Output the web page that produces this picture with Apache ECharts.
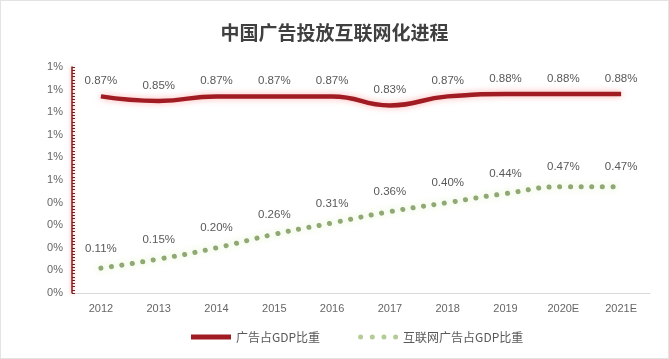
<!DOCTYPE html>
<html><head><meta charset="utf-8">
<script src="https://cdn.jsdelivr.net/npm/echarts@6/dist/echarts.min.js"></script>
<style>
html,body{margin:0;padding:0;background:#fff;}
#c{width:669px;height:359px;box-sizing:border-box;border:1px solid #e3e3e3;}
</style></head>
<body><div id="c"></div>
<script>
const categories = ['2012','2013','2014','2015','2016','2017','2018','2019','2020E','2021E'];
const adGdp = [0.87,0.85,0.87,0.87,0.87,0.83,0.87,0.88,0.88,0.88];
const netAdGdp = [0.11,0.15,0.20,0.26,0.31,0.36,0.40,0.44,0.47,0.47];
const seriesNames = ['广告占GDP比重','互联网广告占GDP比重'];
const titleText = '中国广告投放互联网化进程';

const chart = echarts.init(document.getElementById('c'));
const fontFam = '"Microsoft YaHei","Noto Sans CJK SC",sans-serif';
const numFont = '"Liberation Sans",Arial,sans-serif';
const dotsIcon = 'path://M0,2.5a2.5,2.5 0 1,0 5,0a2.5,2.5 0 1,0 -5,0ZM11.67,2.5a2.5,2.5 0 1,0 5,0a2.5,2.5 0 1,0 -5,0ZM23.33,2.5a2.5,2.5 0 1,0 5,0a2.5,2.5 0 1,0 -5,0ZM35,2.5a2.5,2.5 0 1,0 5,0a2.5,2.5 0 1,0 -5,0Z';
chart.setOption({
  animation:false,
  textStyle:{fontFamily:fontFam},
  title:{text:titleText,left:'center',top:17,textStyle:{fontSize:19,fontWeight:'bold',color:'#404040',fontFamily:fontFam}},
  grid:{left:71,right:18,top:66,bottom:65},
  legend:{left:185,top:325,itemWidth:40,itemHeight:5,itemGap:38,
    textStyle:{fontSize:12,color:'#595959',fontFamily:fontFam},
    data:[
      {name:seriesNames[0],icon:'rect',itemStyle:{color:'#a01c22',opacity:1}},
      {name:seriesNames[1],icon:dotsIcon,itemStyle:{color:'#b5cc96',opacity:1}}
    ]},
  xAxis:{type:'category',data:categories,boundaryGap:true,
    axisLine:{lineStyle:{color:'#d9d9d9'}},axisTick:{show:false},
    axisLabel:{color:'#666',fontSize:11,margin:10,fontFamily:numFont}},
  yAxis:{type:'value',min:0,max:1,interval:0.1,
    axisLine:{show:true,lineStyle:{color:'#8b1a1a',width:1.5,shadowColor:'rgba(255,120,120,0.7)',shadowBlur:4}},
    axisTick:{show:true,inside:true,length:3,lineStyle:{color:'#7a2020'}},
    minorTick:{show:true,splitNumber:7,length:3,lineStyle:{color:'#7a2020'}},
    splitLine:{show:false},
    axisLabel:{color:'#666',fontSize:11,margin:9,fontFamily:numFont,
      formatter:v=>Math.round(v)+'%'}},
  series:[
    {name:seriesNames[0],type:'line',data:adGdp,smooth:0.5,symbol:'circle',symbolSize:1,showSymbol:true,
      itemStyle:{color:'rgba(0,0,0,0)'},
      lineStyle:{width:4.5,color:'#a01c22',shadowColor:'rgba(255,110,110,0.55)',shadowBlur:6},
      label:{show:true,position:'top',distance:9,formatter:p=>p.value.toFixed(2)+'%',color:'#595959',fontSize:11.5,fontFamily:numFont}},
    {name:seriesNames[1],type:'line',data:netAdGdp,smooth:0.5,symbol:'circle',symbolSize:1,showSymbol:true,
      itemStyle:{color:'rgba(0,0,0,0)'},
      lineStyle:{width:5,color:'#8fa874',type:[0.1,10.5],cap:'round',shadowColor:'rgba(190,230,140,0.6)',shadowBlur:6},
      label:{show:true,position:'top',distance:13,formatter:p=>p.value.toFixed(2)+'%',color:'#595959',fontSize:11.5,fontFamily:numFont}}
  ]
});
</script></body></html>
